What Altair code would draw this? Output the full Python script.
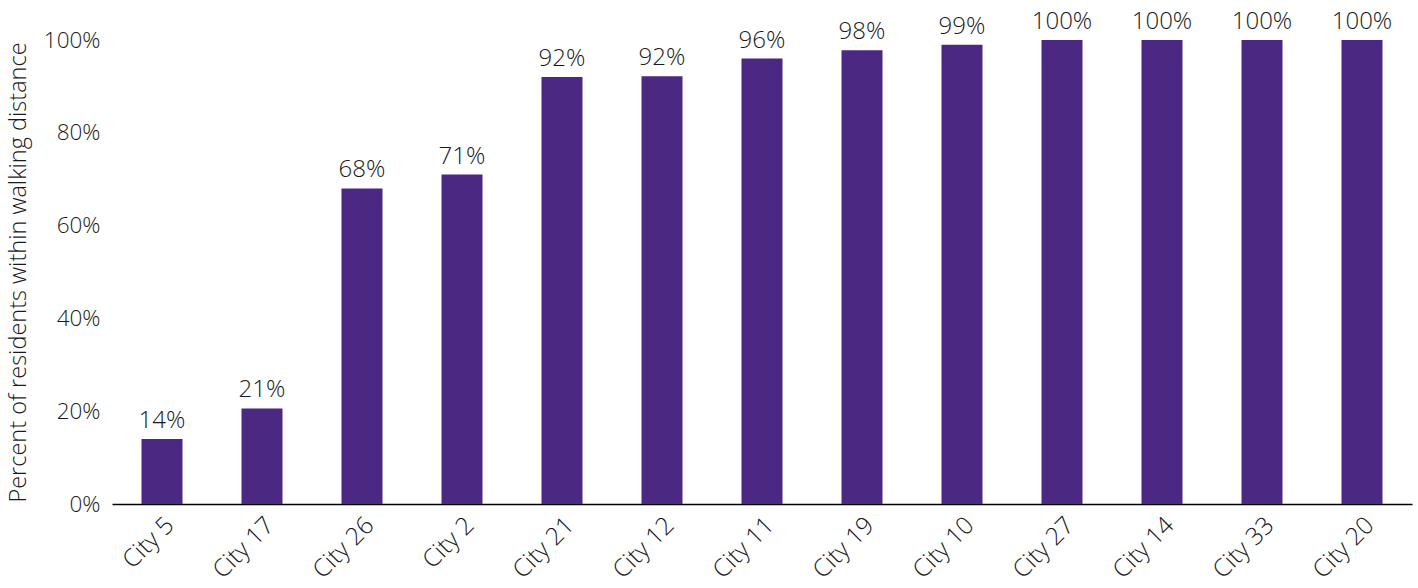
import altair as alt
import pandas as pd

cities = ["City 5", "City 17", "City 26", "City 2", "City 21", "City 12", "City 11",
          "City 19", "City 10", "City 27", "City 14", "City 33", "City 20"]
values = [0.14, 0.206, 0.68, 0.71, 0.92, 0.922, 0.96, 0.978, 0.99, 1.0, 1.0, 1.0, 1.0]

df = pd.DataFrame({"city": cities, "value": values})

FONT = "Open Sans"
TXT = "#1a1a1a"

base = alt.Chart(df).encode(
    x=alt.X("city:N", sort=cities,
            scale=alt.Scale(paddingInner=0.59, paddingOuter=0.295),
            axis=alt.Axis(title=None, labelAngle=-45, labelFontSize=24.5, labelFont=FONT,
                          labelFontWeight=300, labelColor=TXT, ticks=False, labelPadding=9,
                          domainColor="#000000", domainWidth=1.5, grid=False)),
    y=alt.Y("value:Q", scale=alt.Scale(domain=[0, 1], nice=False),
            axis=alt.Axis(title="Percent of residents within walking distance", format=".0%",
                          values=[0, 0.2, 0.4, 0.6, 0.8, 1.0], domain=False, ticks=False,
                          grid=False, labelFontSize=22.5, labelFont=FONT, labelFontWeight=300,
                          labelColor=TXT, labelPadding=12, titleFontSize=23.5, titleFont=FONT,
                          titleFontWeight=300, titleColor=TXT, titleX=-94,
                          titleBaseline="middle")),
)

bars = base.mark_bar(color="#4B2882")
labels = base.mark_text(baseline="alphabetic", dy=-11, fontSize=24, font=FONT, fontWeight=300,
                        color=TXT).encode(text=alt.Text("value:Q", format=".0%"))

chart = (bars + labels).properties(
    width=1300, height=464,
    autosize=alt.AutoSizeParams(type="none"),
    padding={"left": 112, "top": 40, "right": 6, "bottom": 84},
).configure_view(stroke=None)

chart.save("out.html", embed_options={"renderer": "svg", "actions": False})
